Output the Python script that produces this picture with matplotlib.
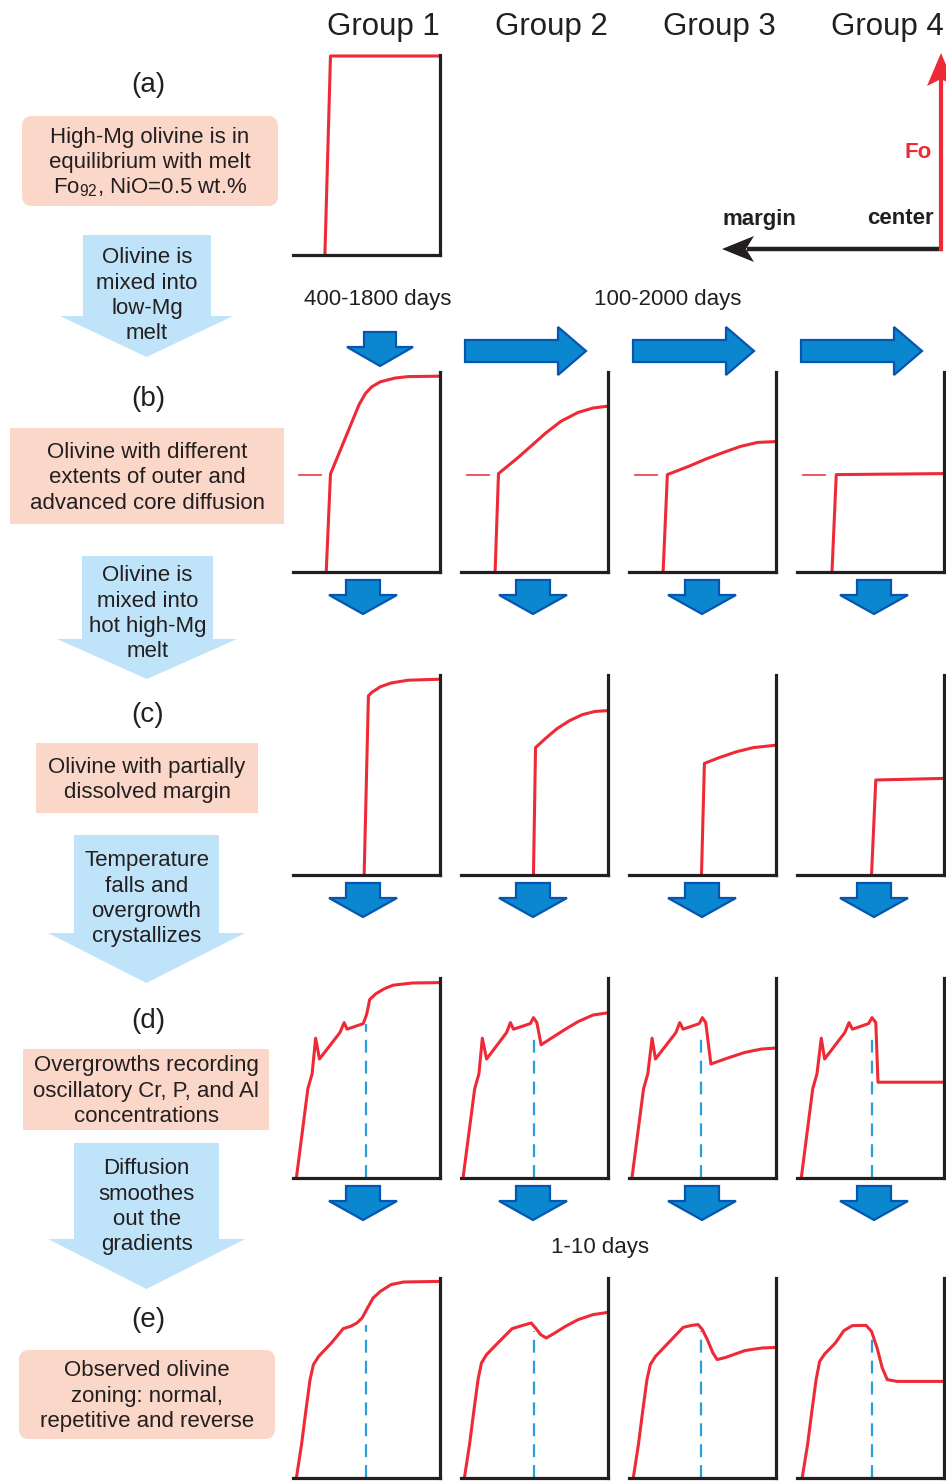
"""Schematic of olivine Fo zoning evolution for four groups (stages a-e)."""

import matplotlib.pyplot as plt
from matplotlib.patches import FancyBboxPatch, Polygon, Rectangle

plt.rcParams["font.family"] = ["Liberation Sans", "DejaVu Sans"]
plt.rcParams["mathtext.fontset"] = "custom"
plt.rcParams["mathtext.rm"] = "Liberation Sans"
plt.rcParams["mathtext.it"] = "Liberation Sans:italic"

W_PX, H_PX = 946, 1481

# ---- text content -------------------------------------------------------
GROUPS = ["Group 1", "Group 2", "Group 3", "Group 4"]
STAGES = ["(a)", "(b)", "(c)", "(d)", "(e)"]
STAGE_NOTES = [
    ["High-Mg olivine is in", "equilibrium with melt", r"Fo$_\mathrm{92}$, NiO=0.5 wt.%"],
    ["Olivine with different", "extents of outer and", "advanced core diffusion"],
    ["Olivine with partially", "dissolved margin"],
    ["Overgrowths recording", "oscillatory Cr, P, and Al", "concentrations"],
    ["Observed olivine", "zoning: normal,", "repetitive and reverse"],
]
PROCESS_NOTES = [
    ["Olivine is", "mixed into", "low-Mg", "melt"],
    ["Olivine is", "mixed into", "hot high-Mg", "melt"],
    ["Temperature", "falls and", "overgrowth", "crystallizes"],
    ["Diffusion", "smoothes", "out the", "gradients"],
]
TIMESCALES = ["400-1800 days", "100-2000 days", "1-10 days"]

# ---- Fo profiles (x: margin -> center, y: relative Fo), one list per group
A_X = [[0.217, 0.255, 1.0]]
A_Y = [[0.0, 0.995, 0.995]]

B_INITIAL_FO = 0.485
B_X = [
    [0.226, 0.255, 0.449, 0.493, 0.536, 0.594, 0.696, 0.783, 1.0],
    [0.232, 0.255, 0.391, 0.580, 0.681, 0.797, 0.899, 0.986, 1.0],
    [0.232, 0.261, 0.412, 0.527, 0.643, 0.759, 0.875, 1.0],
    [0.238, 0.267, 1.0],
]
B_Y = [
    [0.0, 0.49, 0.836, 0.893, 0.926, 0.951, 0.970, 0.977, 0.979],
    [0.0, 0.492, 0.574, 0.697, 0.754, 0.798, 0.820, 0.828, 0.828],
    [0.0, 0.487, 0.530, 0.566, 0.598, 0.628, 0.648, 0.652],
    [0.0, 0.487, 0.492],
]

C_X = [
    [0.484, 0.513, 0.536, 0.594, 0.667, 0.783, 1.0],
    [0.493, 0.507, 0.580, 0.652, 0.739, 0.826, 0.913, 1.0],
    [0.493, 0.513, 0.614, 0.730, 0.846, 1.0],
    [0.507, 0.536, 1.0],
]
C_Y = [
    [0.0, 0.896, 0.913, 0.941, 0.960, 0.974, 0.979],
    [0.0, 0.637, 0.686, 0.731, 0.772, 0.802, 0.818, 0.822],
    [0.0, 0.558, 0.587, 0.616, 0.637, 0.649],
    [0.0, 0.475, 0.483],
]

D_X = [
    [0.023, 0.101, 0.130, 0.154, 0.180, 0.319, 0.348, 0.368, 0.478, 0.501,
     0.522, 0.565, 0.623, 0.681, 0.812, 1.0],
    [0.014, 0.093, 0.122, 0.145, 0.174, 0.310, 0.336, 0.357, 0.472, 0.493,
     0.516, 0.545, 0.623, 0.710, 0.797, 0.899, 1.0],
    [0.020, 0.099, 0.128, 0.157, 0.180, 0.319, 0.345, 0.368, 0.478, 0.499,
     0.522, 0.557, 0.672, 0.788, 0.904, 1.0],
    [0.029, 0.107, 0.136, 0.165, 0.188, 0.325, 0.354, 0.377, 0.487, 0.510,
     0.536, 0.551, 1.0],
]
D_Y = [
    [0.0, 0.446, 0.521, 0.699, 0.595, 0.727, 0.777, 0.744, 0.772, 0.818,
     0.893, 0.922, 0.947, 0.964, 0.975, 0.977],
    [0.0, 0.446, 0.521, 0.699, 0.595, 0.727, 0.777, 0.744, 0.772, 0.802,
     0.777, 0.666, 0.703, 0.744, 0.782, 0.815, 0.826],
    [0.0, 0.446, 0.521, 0.699, 0.595, 0.727, 0.777, 0.744, 0.772, 0.802,
     0.777, 0.570, 0.600, 0.628, 0.645, 0.650],
    [0.0, 0.446, 0.521, 0.699, 0.595, 0.727, 0.777, 0.744, 0.772, 0.802,
     0.777, 0.479, 0.479],
]

E_X = [
    [0.023, 0.058, 0.087, 0.116, 0.139, 0.174, 0.261, 0.342, 0.391, 0.435,
     0.470, 0.507, 0.545, 0.594, 0.667, 0.754, 1.0],
    [0.023, 0.058, 0.087, 0.116, 0.139, 0.174, 0.261, 0.348, 0.420, 0.478,
     0.507, 0.542, 0.580, 0.638, 0.710, 0.797, 0.899, 1.0],
    [0.029, 0.064, 0.093, 0.122, 0.145, 0.180, 0.267, 0.368, 0.426, 0.470,
     0.499, 0.533, 0.571, 0.600, 0.658, 0.788, 0.904, 1.0],
    [0.035, 0.072, 0.101, 0.130, 0.154, 0.188, 0.261, 0.319, 0.377, 0.470,
     0.507, 0.545, 0.580, 0.614, 0.681, 0.841, 1.0],
]
E_Y = [
    [0.0, 0.167, 0.333, 0.492, 0.567, 0.608, 0.675, 0.747, 0.758, 0.775,
     0.800, 0.850, 0.900, 0.933, 0.967, 0.980, 0.983],
    [0.0, 0.167, 0.333, 0.492, 0.575, 0.617, 0.683, 0.747, 0.763, 0.775,
     0.750, 0.717, 0.700, 0.725, 0.758, 0.792, 0.817, 0.828],
    [0.0, 0.167, 0.333, 0.492, 0.567, 0.608, 0.675, 0.753, 0.763, 0.767,
     0.742, 0.692, 0.625, 0.592, 0.603, 0.637, 0.650, 0.653],
    [0.0, 0.167, 0.333, 0.492, 0.583, 0.620, 0.675, 0.737, 0.762, 0.763,
     0.733, 0.650, 0.550, 0.492, 0.483, 0.483, 0.483],
]

# former crystal margin (dashed) in stages d and e
EDGE_X = [0.499, 0.499, 0.493, 0.507]
D_EDGE_TOP = [0.77, 0.73, 0.73, 0.73]
E_EDGE_TOP = [0.767, 0.733, 0.733, 0.733]

# ---- layout (pixels, y down) ----------------------------------------------
COL_LEFT = [293, 461, 629, 797]
PANEL_W = 147
PANEL_H = 200
ROW_BOTTOM = [255, 572, 875, 1178, 1478]
ROW_LABEL_Y = [85, 399, 715, 1021, 1320]
NOTE_BOX = [  # x0, y0, x1, y1, rounded
    (22, 116, 278, 206, True),
    (10, 428, 284, 524, False),
    (36, 743, 258, 813, False),
    (23, 1049, 269, 1130, False),
    (19, 1350, 275, 1439, True),
]
PROCESS_ARROW = [  # rect x0, x1, top, neck, head x0, x1, tip, text centre y
    (83, 211, 235, 316, 60, 233, 357, 294),
    (82, 213, 556, 639, 57, 237, 679, 612),
    (74, 219, 835, 933, 48, 245, 983, 897),
    (74, 219, 1143, 1239, 48, 245, 1289, 1205),
]
DOWN_ARROW_DX = [70, 72, 73, 77]
KEY_X, KEY_Y = 941, 249

RED = "#ee2a36"
INK = "#231f20"
PINK = "#fad7c8"
PALE_BLUE = "#bfe3f8"
BLUE_FILL = "#0a87cf"
BLUE_EDGE = "#0556b0"
DASH_BLUE = "#2a9ed8"


def add_panel(fig, col, row):
    left = COL_LEFT[col]
    bottom = ROW_BOTTOM[row]
    ax = fig.add_axes([left / W_PX, 1 - bottom / H_PX, PANEL_W / W_PX, PANEL_H / H_PX])
    ax.set_xlim(0, 1)
    ax.set_ylim(0, 1)
    ax.patch.set_visible(False)
    ax.set_xticks([])
    ax.set_yticks([])
    for side in ("left", "top"):
        ax.spines[side].set_visible(False)
    for side in ("right", "bottom"):
        ax.spines[side].set_linewidth(2.3)
        ax.spines[side].set_color(INK)
    return ax


def draw_profile(ax, x, y):
    ax.plot(x, y, color=RED, lw=2.2, clip_on=False, solid_joinstyle="round")


def draw_edge(ax, x, top):
    ax.plot([x, x], [0, top], color=DASH_BLUE, lw=1.6, dashes=(5.8, 3.6), clip_on=False)


def down_arrow(ax, cx, top, shaft=17, head=34, shaft_len=15, head_len=19):
    pts = [
        (cx - shaft, top), (cx + shaft, top), (cx + shaft, top + shaft_len),
        (cx + head, top + shaft_len), (cx, top + shaft_len + head_len),
        (cx - head, top + shaft_len), (cx - shaft, top + shaft_len),
    ]
    ax.add_patch(Polygon(pts, closed=True, fc=BLUE_FILL, ec=BLUE_EDGE, lw=1.6, joinstyle="miter"))


def right_arrow(ax, x0, cy, length=121, shaft=11, head=24, head_len=28):
    xn = x0 + length - head_len
    pts = [
        (x0, cy - shaft), (xn, cy - shaft), (xn, cy - head), (x0 + length, cy),
        (xn, cy + head), (xn, cy + shaft), (x0, cy + shaft),
    ]
    ax.add_patch(Polygon(pts, closed=True, fc=BLUE_FILL, ec=BLUE_EDGE, lw=1.6, joinstyle="miter"))


def text_lines(ax, cx, cy, lines, size, spacing, **kw):
    n = len(lines)
    for i, line in enumerate(lines):
        y = cy + (i - (n - 1) / 2) * spacing
        ax.text(cx, y + 0.33 * size * 1.389, line, ha="center", va="baseline",
                fontsize=size, color=INK, **kw)


def main():
    fig = plt.figure(figsize=(W_PX / 100, H_PX / 100), dpi=100)
    base = fig.add_axes([0, 0, 1, 1])
    base.set_xlim(0, W_PX)
    base.set_ylim(H_PX, 0)
    base.axis("off")

    # group titles
    for col, name in enumerate(GROUPS):
        base.text(COL_LEFT[col] + PANEL_W, 27, name, ha="right", va="center",
                  fontsize=22.5, color=INK)

    # stage labels and description boxes
    for row, label in enumerate(STAGES):
        base.text(148, ROW_LABEL_Y[row], label, ha="center", va="center", fontsize=20, color=INK)
        x0, y0, x1, y1, rounded = NOTE_BOX[row]
        if rounded:
            box = FancyBboxPatch((x0, y0), x1 - x0, y1 - y0,
                                 boxstyle="round,pad=0,rounding_size=10",
                                 fc=PINK, ec="none")
        else:
            box = Rectangle((x0, y0), x1 - x0, y1 - y0, fc=PINK, ec="none")
        base.add_patch(box)
        text_lines(base, (x0 + x1) / 2, (y0 + y1) / 2, STAGE_NOTES[row], 16, 25.5)

    # process arrows between stages
    for i, (rx0, rx1, top, neck, hx0, hx1, tip, ty) in enumerate(PROCESS_ARROW):
        cx = (hx0 + hx1) / 2
        pts = [(rx0, top), (rx1, top), (rx1, neck), (hx1, neck), (cx, tip),
               (hx0, neck), (rx0, neck)]
        base.add_patch(Polygon(pts, closed=True, fc=PALE_BLUE, ec="none"))
        text_lines(base, (rx0 + rx1) / 2, ty, PROCESS_NOTES[i], 16, 25.3)

    # timescale annotations
    base.text(378, 300, TIMESCALES[0], ha="center", va="center", fontsize=16, color=INK)
    base.text(668, 300, TIMESCALES[1], ha="center", va="center", fontsize=16, color=INK)
    base.text(600, 1248, TIMESCALES[2], ha="center", va="center", fontsize=16, color=INK)

    # axis key (Fo up, margin left)
    base.plot([KEY_X + 2, 747], [KEY_Y, KEY_Y], color=INK, lw=3.2, solid_capstyle="butt")
    base.add_patch(Polygon([(722, KEY_Y), (754, KEY_Y - 13), (746, KEY_Y),
                            (754, KEY_Y + 13)], closed=True, fc=INK, ec="none"))
    base.plot([KEY_X, KEY_X], [KEY_Y + 1.5, 79], color=RED, lw=3.0, solid_capstyle="butt")
    base.add_patch(Polygon([(KEY_X, 53), (KEY_X + 14, 86), (KEY_X, 79),
                            (KEY_X - 14, 86)], closed=True, fc=RED, ec="none"))
    base.text(918, 153, "Fo", ha="center", va="center", fontsize=16,
              fontweight="bold", color=RED)
    base.text(759, 219, "margin", ha="center", va="center", fontsize=16,
              fontweight="bold", color=INK)
    base.text(900, 219, "center", ha="center", va="center", fontsize=16,
              fontweight="bold", color=INK)

    # block arrows between panel rows
    down_arrow(base, 380, 332, shaft=16, head=33, shaft_len=15, head_len=19)
    for col in range(1, 4):
        right_arrow(base, COL_LEFT[col] + 4, 351)
    for row in (1, 2, 3):
        for col in range(4):
            down_arrow(base, COL_LEFT[col] + DOWN_ARROW_DX[col], ROW_BOTTOM[row] + 8)

    # stage (a): only group 1 crystal
    ax = add_panel(fig, 0, 0)
    draw_profile(ax, A_X[0], A_Y[0])

    for col in range(4):
        ax = add_panel(fig, col, 1)
        ax.plot([0.04, 0.19], [B_INITIAL_FO, B_INITIAL_FO], color=RED, lw=1.3,
                alpha=0.85, clip_on=False)
        draw_profile(ax, B_X[col], B_Y[col])

        ax = add_panel(fig, col, 2)
        draw_profile(ax, C_X[col], C_Y[col])

        ax = add_panel(fig, col, 3)
        draw_edge(ax, EDGE_X[col], D_EDGE_TOP[col])
        draw_profile(ax, D_X[col], D_Y[col])

        ax = add_panel(fig, col, 4)
        draw_edge(ax, EDGE_X[col], E_EDGE_TOP[col])
        draw_profile(ax, E_X[col], E_Y[col])

    fig.savefig("out.png", dpi=100)
    plt.close(fig)


if __name__ == "__main__":
    main()
